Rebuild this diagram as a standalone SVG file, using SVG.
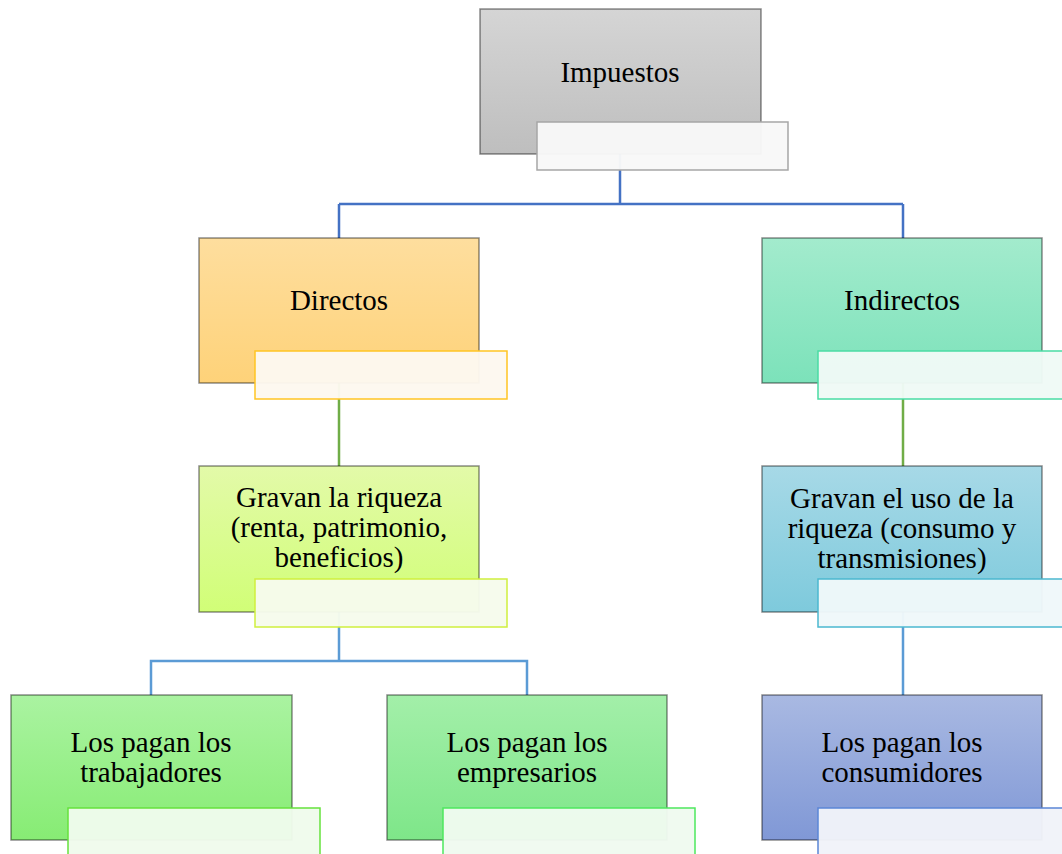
<svg xmlns="http://www.w3.org/2000/svg" width="1062" height="854" viewBox="0 0 1062 854">
<style>
.box{stroke:#000;stroke-opacity:0.45;stroke-width:1.5}
.ov{stroke-width:1.5;fill-opacity:0.97}
.t{font-size:29px;fill:#000;text-anchor:middle}
.c{fill:none;stroke-width:2.5}
</style>
<defs>
<linearGradient id="g0" x1="0" y1="0" x2="0" y2="1"><stop offset="0" stop-color="#D5D5D5"/><stop offset="1" stop-color="#BEBEBE"/></linearGradient>
<linearGradient id="g1" x1="0" y1="0" x2="0" y2="1"><stop offset="0" stop-color="#FEDE9E"/><stop offset="1" stop-color="#FED279"/></linearGradient>
<linearGradient id="g2" x1="0" y1="0" x2="0" y2="1"><stop offset="0" stop-color="#A3EBCD"/><stop offset="1" stop-color="#7CE2BA"/></linearGradient>
<linearGradient id="g3" x1="0" y1="0" x2="0" y2="1"><stop offset="0" stop-color="#E3FAA9"/><stop offset="1" stop-color="#D1FE77"/></linearGradient>
<linearGradient id="g4" x1="0" y1="0" x2="0" y2="1"><stop offset="0" stop-color="#A7D9E7"/><stop offset="1" stop-color="#7ECADC"/></linearGradient>
<linearGradient id="g5" x1="0" y1="0" x2="0" y2="1"><stop offset="0" stop-color="#AAF3A1"/><stop offset="1" stop-color="#87EC74"/></linearGradient>
<linearGradient id="g6" x1="0" y1="0" x2="0" y2="1"><stop offset="0" stop-color="#A3EFA9"/><stop offset="1" stop-color="#7EE689"/></linearGradient>
<linearGradient id="g7" x1="0" y1="0" x2="0" y2="1"><stop offset="0" stop-color="#A9B9E2"/><stop offset="1" stop-color="#8098D6"/></linearGradient>
</defs>
<g id="connectors">
<path class="c" stroke="#4472C4" d="M620,154 V204 M339,204 H903 M339,204 V238 M903,204 V238"/>
<path class="c" stroke="#70AD47" d="M339,383 V466 M903,383 V466"/>
<path class="c" stroke="#5B9BD5" d="M339,612 V661 M151,695 V661 H527 V695 M903,612 V695"/>
</g>
<g font-family="'Liberation Serif', 'DejaVu Serif', 'Times New Roman', serif">
<g id="n-impuestos">
<rect class="box" x="480" y="9" width="281" height="145" fill="url(#g0)"/>
<rect class="ov" x="537" y="122" width="251" height="48" fill="#F8F8F8" stroke="#A6A6A6"/>
<text class="t" x="620" y="82">Impuestos</text>
</g>
<g id="n-directos">
<rect class="box" x="199" y="238" width="280" height="145" fill="url(#g1)"/>
<rect class="ov" x="255" y="351" width="252" height="48" fill="#FDF8F0" stroke="#FFC523"/>
<text class="t" x="339" y="310">Directos</text>
</g>
<g id="n-indirectos">
<rect class="box" x="762" y="238" width="280" height="145" fill="url(#g2)"/>
<rect class="ov" x="818" y="351" width="252" height="48" fill="#F0FAF6" stroke="#4ADCA4"/>
<text class="t" x="902" y="310">Indirectos</text>
</g>
<g id="n-gravan-riqueza">
<rect class="box" x="199" y="466" width="280" height="146" fill="url(#g3)"/>
<rect class="ov" x="255" y="579" width="252" height="48" fill="#F6FBEC" stroke="#CFEF3E"/>
<text class="t" x="339" y="507">Gravan la riqueza</text>
<text class="t" x="339" y="537">(renta, patrimonio,</text>
<text class="t" x="339" y="567">beneficios)</text>
</g>
<g id="n-gravan-uso">
<rect class="box" x="762" y="466" width="280" height="146" fill="url(#g4)"/>
<rect class="ov" x="818" y="579" width="252" height="48" fill="#EFF8FA" stroke="#4BB8D0"/>
<text class="t" x="902" y="508">Gravan el uso de la</text>
<text class="t" x="902" y="538">riqueza (consumo y</text>
<text class="t" x="902" y="568">transmisiones)</text>
</g>
<g id="n-trabajadores">
<rect class="box" x="11" y="695" width="281" height="145" fill="url(#g5)"/>
<rect class="ov" x="68" y="808" width="252" height="60" fill="#EFFBEC" stroke="#66E23C"/>
<text class="t" x="151" y="752">Los pagan los</text>
<text class="t" x="151" y="782">trabajadores</text>
</g>
<g id="n-empresarios">
<rect class="box" x="387" y="695" width="280" height="145" fill="url(#g6)"/>
<rect class="ov" x="443" y="808" width="252" height="60" fill="#EFFAF0" stroke="#4DE85E"/>
<text class="t" x="527" y="752">Los pagan los</text>
<text class="t" x="527" y="782">empresarios</text>
</g>
<g id="n-consumidores">
<rect class="box" x="762" y="695" width="280" height="145" fill="url(#g7)"/>
<rect class="ov" x="818" y="808" width="252" height="60" fill="#F1F3F9" stroke="#5B86D6"/>
<text class="t" x="902" y="752">Los pagan los</text>
<text class="t" x="902" y="782">consumidores</text>
</g>
</g>
</svg>
